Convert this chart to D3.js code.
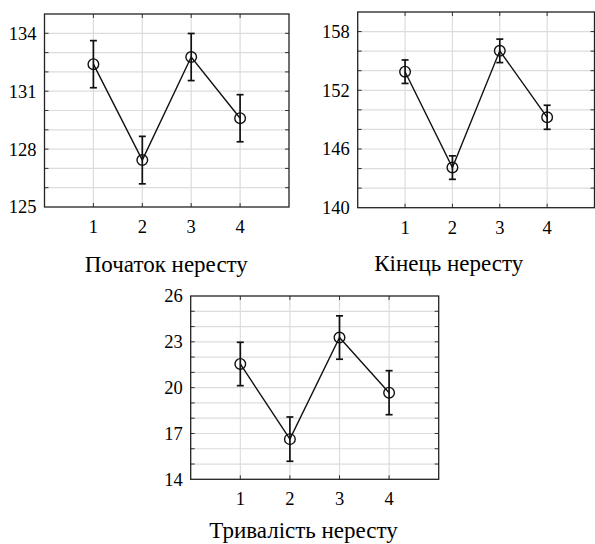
<!DOCTYPE html>
<html><head><meta charset="utf-8">
<script src="https://cdn.jsdelivr.net/npm/d3@7"></script>
<style>body{margin:0;background:#fff}svg{display:block}</style>
</head><body>
<svg id="c" width="595" height="544"></svg>
<script>
const categories = [1, 2, 3, 4];
const startMean = [132.4, 127.43, 132.77, 129.6];
const startErr = [1.22, 1.23, 1.22, 1.22];
const endMean = [153.9, 144.1, 156.03, 149.24];
const endErr = [1.2, 1.2, 1.2, 1.23];
const durMean = [21.55, 16.63, 23.28, 19.67];
const durErr = [1.42, 1.45, 1.42, 1.44];
const startTicks = [125, 128, 131, 134];
const endTicks = [140, 146, 152, 158];
const durTicks = [14, 17, 20, 23, 26];
const titles = ["Початок нересту", "Кінець нересту", "Тривалість нересту"];

const panels = [
  {l:44.5, r:289, t:14, b:207, dom:[125,135], step:1, ticks:startTicks, mean:startMean, err:startErr, title:titles[0], tx:166.3, ty:271.5},
  {l:357.7, r:594.5, t:12, b:207.7, dom:[140,160], step:2, ticks:endTicks, mean:endMean, err:endErr, title:titles[1], tx:448.7, ty:271},
  {l:190.7, r:438.7, t:296, b:479.3, dom:[14,26], step:1, ticks:durTicks, mean:durMean, err:durErr, title:titles[2], tx:303.5, ty:538}
];

const svg = d3.select("#c");
const FONT = '"Liberation Serif"';

panels.forEach(p => {
  const x = d3.scaleLinear().domain([0,5]).range([p.l, p.r]);
  const y = d3.scaleLinear().domain(p.dom).range([p.b, p.t]);
  const g = svg.append("g");
  const grid = d3.range(p.dom[0] + p.step, p.dom[1] - 1e-9, p.step);
  g.selectAll(".gy").data(grid).enter().append("line")
    .attr("x1", p.l).attr("x2", p.r).attr("y1", d => y(d)).attr("y2", d => y(d))
    .attr("stroke", "#dcdcdc").attr("stroke-width", 1.2);
  g.selectAll(".gx").data(categories).enter().append("line")
    .attr("x1", d => x(d)).attr("x2", d => x(d)).attr("y1", p.t).attr("y2", p.b)
    .attr("stroke", "#dcdcdc").attr("stroke-width", 1.2);
  const tl = 4;
  g.selectAll(".tl").data(grid).enter().append("line")
    .attr("x1", p.l).attr("x2", p.l + tl).attr("y1", d => y(d)).attr("y2", d => y(d))
    .attr("stroke", "#333").attr("stroke-width", 1);
  g.selectAll(".tr").data(grid).enter().append("line")
    .attr("x1", p.r).attr("x2", p.r - tl).attr("y1", d => y(d)).attr("y2", d => y(d))
    .attr("stroke", "#333").attr("stroke-width", 1);
  g.selectAll(".tt").data(categories).enter().append("line")
    .attr("x1", d => x(d)).attr("x2", d => x(d)).attr("y1", p.t).attr("y2", p.t + tl)
    .attr("stroke", "#333").attr("stroke-width", 1);
  g.selectAll(".tb").data(categories).enter().append("line")
    .attr("x1", d => x(d)).attr("x2", d => x(d)).attr("y1", p.b).attr("y2", p.b - tl)
    .attr("stroke", "#333").attr("stroke-width", 1);
  g.append("rect").attr("x", p.l).attr("y", p.t).attr("width", p.r - p.l).attr("height", p.b - p.t)
    .attr("fill", "none").attr("stroke", "#222").attr("stroke-width", 1.3);
  g.selectAll(".yl").data(p.ticks).enter().append("text")
    .attr("x", p.l - 8).attr("y", d => y(d)).attr("dy", "0.35em")
    .attr("text-anchor", "end")
    .style("font-family", FONT).style("font-size", "18.5px")
    .text(d => d);
  g.selectAll(".xl").data(categories).enter().append("text")
    .attr("x", d => x(d)).attr("y", p.b + 26)
    .attr("text-anchor", "middle")
    .style("font-family", FONT).style("font-size", "18.5px")
    .text(d => d);
  g.append("text").attr("x", p.tx).attr("y", p.ty)
    .attr("text-anchor", "middle")
    .style("font-family", FONT).style("font-size", "23px")
    .text(p.title);
  const pts = categories.map((c, i) => [c, p.mean[i], p.err[i]]);
  g.append("path").datum(pts)
    .attr("d", d3.line().x(d => x(d[0])).y(d => y(d[1])))
    .attr("fill", "none").attr("stroke", "#111").attr("stroke-width", 1.4);
  const cw = 3.5;
  pts.forEach(d => {
    const cx = x(d[0]), y1 = y(d[1] + d[2]), y2 = y(d[1] - d[2]);
    g.append("line").attr("x1", cx).attr("x2", cx).attr("y1", y1).attr("y2", y2)
      .attr("stroke", "#111").attr("stroke-width", 1.7);
    [y1, y2].forEach(yy => g.append("line").attr("x1", cx - cw).attr("x2", cx + cw)
      .attr("y1", yy).attr("y2", yy).attr("stroke", "#111").attr("stroke-width", 1.7));
  });
  g.selectAll(".pt").data(pts).enter().append("circle")
    .attr("cx", d => x(d[0])).attr("cy", d => y(d[1])).attr("r", 5.3)
    .attr("fill", "none").attr("stroke", "#111").attr("stroke-width", 1.4);
});
</script>
</body></html>
